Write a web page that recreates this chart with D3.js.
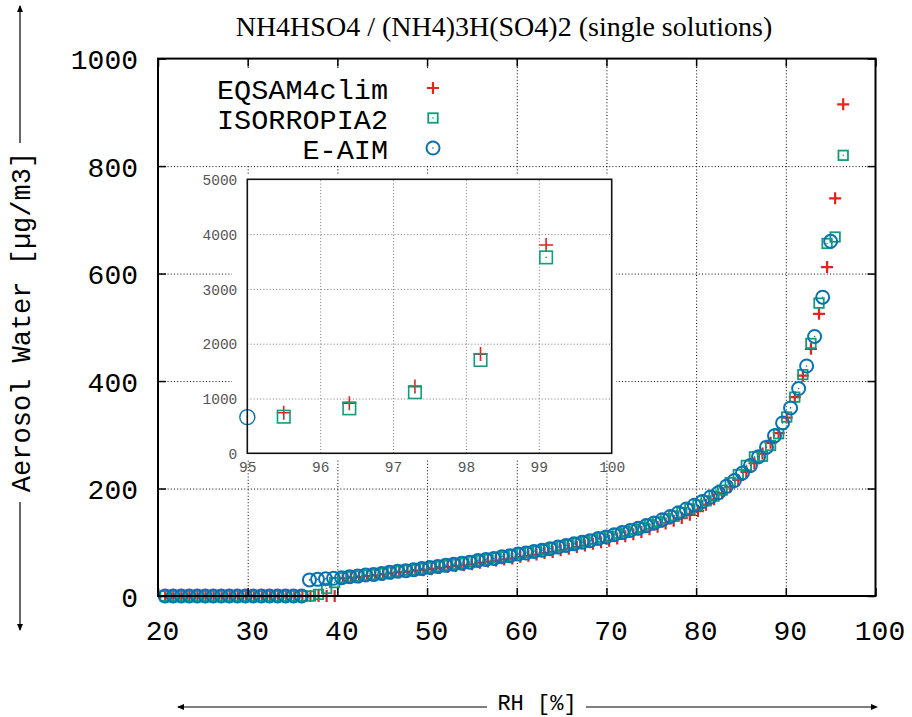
<!DOCTYPE html>
<html>
<head>
<meta charset="utf-8">
<script src="https://cdn.jsdelivr.net/npm/d3@7"></script>
<style>
  body { margin: 0; background: #fff; }
  svg { display: block; }
</style>
</head>
<body>
<svg id="chart" width="912" height="717"></svg>
<script>
// Relative humidity grid of the EQSAM4clim and ISORROPIA2 runs [%]
const rhGrid = [20.8,21.7,22.6,23.5,24.4,25.3,26.2,27.1,28.0,28.9,29.8,30.7,31.6,32.5,33.4,34.3,35.2,36.1,37.0,37.9,
  38.8,39.7,40.6,41.5,42.4,43.3,44.2,45.1,46.0,46.9,47.8,48.7,49.6,50.5,51.4,52.3,53.2,54.1,55.0,55.9,
  56.8,57.7,58.6,59.5,60.4,61.3,62.2,63.1,64.0,64.9,65.8,66.7,67.6,68.5,69.4,70.3,71.2,72.1,73.0,73.9,
  74.8,75.7,76.6,77.5,78.4,79.3,80.2,81.1,82.0,82.9,83.8,84.7,85.6,86.5,87.4,88.3,89.2,90.1,91.0,91.9,
  92.8,93.7,94.6,95.5,96.4,97.3,98.2,99.1];

// Relative humidity grid of the E-AIM reference runs [%]
const rhEaim = [20.80,21.69,22.59,23.48,24.38,25.27,26.16,27.06,27.95,28.85,29.74,30.63,31.53,32.42,33.32,34.21,35.10,36.00,
  36.89,37.79,38.68,39.57,40.47,41.36,42.26,43.15,44.04,44.94,45.83,46.73,47.62,48.51,49.41,50.30,51.20,52.09,
  52.98,53.88,54.77,55.67,56.56,57.45,58.35,59.24,60.14,61.03,61.92,62.82,63.71,64.61,65.50,66.39,67.29,68.18,
  69.08,69.97,70.86,71.76,72.65,73.55,74.44,75.33,76.23,77.12,78.02,78.91,79.80,80.70,81.59,82.49,83.38,84.27,
  85.17,86.06,86.96,87.85,88.74,89.64,90.53,91.43,92.32,93.21,94.11,95.00];

// Aerosol water [ug/m3]
const eqsamWater = [0,0,0,0,0,0,0,0,0,0,0,0,0,0,0,0,0,0,0,0,
  0,0,33,34,35,37,38,40,42,44,45,47,48,50,52,54,56,57,59,62,
  64,66,68,70,73,75,77,80,82,85,88,91,94,97,100,103,107,111,115,119,
  124,129,135,140,145,151,158,170,180,191,203,216,231,247,265,285,303,332,370,410,
  460,525,612,740,915,1217,1810,3800];

const isorropiaWater = [0,0,0,0,0,0,0,0,0,0,0,0,0,0,0,0,0,0,0,3,
  14,25,34,36,37,39,40,42,44,46,48,49,51,53,55,57,59,61,64,66,
  68,71,73,76,79,81,83,86,89,92,95,98,101,105,108,111,116,120,124,128,
  133,138,144,149,155,162,169,177,186,197,211,226,243,259,260,280,302,333,370,412,
  470,545,656,668,820,1115,1703,3575];

const eaimWater = [0,0,0,0,0,0,0,0,0,0,0,0,0,0,0,0,0,0,
  30,31,32,33,34,36,37,39,40,42,44,46,47,49,51,53,55,57,
  59,61,63,66,68,70,73,75,78,80,83,85,88,91,94,97,100,103,
  107,110,114,118,122,126,131,136,142,148,155,162,169,176,184,192,204,215,
  229,243,259,277,298,322,350,386,428,483,556,660];

const xTicks = [20,30,40,50,60,70,80,90,100];
const yTicks = [0,200,400,600,800,1000];
const insetXTicks = [95,96,97,98,99,100];
const insetYTicks = [0,1000,2000,3000,4000,5000];

const seriesNames = ["EQSAM4clim","ISORROPIA2","E-AIM"];
const seriesColors = ["#e8221b","#0f9e78","#0a72b4"];

const titleText = "NH4HSO4 / (NH4)3H(SO4)2 (single solutions)";
const yLabelText = "Aerosol Water [\u00b5g/m3]";
const xLabelText = "RH [%]";

const series = [
  { name: seriesNames[0], color: seriesColors[0], shape: "cross",  rh: rhGrid, water: eqsamWater },
  { name: seriesNames[1], color: seriesColors[1], shape: "square", rh: rhGrid, water: isorropiaWater },
  { name: seriesNames[2], color: seriesColors[2], shape: "circle", rh: rhEaim, water: eaimWater }
];

const mono = "'Liberation Mono', 'Courier New', monospace";
const serif = "'Liberation Serif', 'Times New Roman', serif";
const intFmt = d3.format("d");

const svg = d3.select("#chart");

// ---- main panel frame ----
const P = { left: 158, right: 875.5, top: 58.6, bottom: 596 };
const x = d3.scaleLinear().domain([20, 100]).range([P.left, P.right]);
const y = d3.scaleLinear().domain([0, 1000]).range([P.bottom, P.top]);

function dotted(sel, color) {
  sel.selectAll("line").attr("stroke", color).attr("stroke-width", 1).attr("stroke-dasharray", "1,2.2");
}

// grid
svg.append("g")
  .attr("transform", `translate(0,${P.bottom})`)
  .call(d3.axisBottom(x).tickValues(xTicks.slice(1, -1)).tickSize(-(P.bottom - P.top)).tickFormat(""))
  .call(g => g.select(".domain").remove())
  .call(g => dotted(g, "#000"));
svg.append("g")
  .attr("transform", `translate(${P.left},0)`)
  .call(d3.axisLeft(y).tickValues(yTicks.slice(1, -1)).tickSize(-(P.right - P.left)).tickFormat(""))
  .call(g => g.select(".domain").remove())
  .call(g => dotted(g, "#000"));

// ---- markers ----
function drawMarker(g, shape, color, cx, cy, s) {
  if (shape === "cross") {
    g.append("path")
      .attr("d", `M${cx - s.cross},${cy}H${cx + s.cross}M${cx},${cy - s.cross}V${cy + s.cross}`)
      .attr("stroke", color).attr("stroke-width", s.crossW).attr("fill", "none");
  } else if (shape === "square") {
    g.append("rect")
      .attr("x", cx - s.sq / 2).attr("y", cy - s.sq / 2)
      .attr("width", s.sq).attr("height", s.sq)
      .attr("stroke", color).attr("stroke-width", s.sqW).attr("fill", "none");
    g.append("circle").attr("cx", cx).attr("cy", cy).attr("r", 0.8).attr("fill", color);
  } else {
    g.append("circle")
      .attr("cx", cx).attr("cy", cy).attr("r", s.r)
      .attr("stroke", color).attr("stroke-width", s.rW).attr("fill", "none");
    g.append("circle").attr("cx", cx).attr("cy", cy).attr("r", 0.8).attr("fill", color);
  }
}

const mainSize = { cross: 6, crossW: 2.2, sq: 9.5, sqW: 1.8, r: 6.5, rW: 2 };
const pts = svg.append("g");
series.forEach(sr => {
  const g = pts.append("g");
  sr.rh.forEach((rh, i) => {
    const w = sr.water[i];
    if (rh < 20 || rh > 100 || w < 0 || w > 1000) return;
    drawMarker(g, sr.shape, sr.color, x(rh), y(w), mainSize);
  });
});

// ---- axes with inward ticks ----
const tickLen = 8;
const axB = svg.append("g").attr("transform", `translate(0,${P.bottom})`)
  .call(d3.axisBottom(x).tickValues(xTicks).tickSize(-tickLen).tickSizeOuter(0).tickFormat(intFmt));
axB.selectAll("text").attr("x", 4).attr("y", 44).attr("dy", null)
  .attr("font-family", mono).attr("font-size", 28).attr("fill", "#000");
const axL = svg.append("g").attr("transform", `translate(${P.left},0)`)
  .call(d3.axisLeft(y).tickValues(yTicks).tickSize(-tickLen).tickSizeOuter(0).tickFormat(intFmt));
axL.selectAll("text").attr("x", -20).attr("dy", "0.36em")
  .attr("font-family", mono).attr("font-size", 28).attr("fill", "#000");
svg.append("g").attr("transform", `translate(0,${P.top})`)
  .call(d3.axisTop(x).tickValues(xTicks).tickSize(-tickLen).tickSizeOuter(0).tickFormat(""));
svg.append("g").attr("transform", `translate(${P.right},0)`)
  .call(d3.axisRight(y).tickValues(yTicks).tickSize(-tickLen).tickSizeOuter(0).tickFormat(""));
svg.selectAll(".domain").remove();
svg.selectAll(".tick line").filter(function () { return !this.getAttribute("stroke-dasharray"); })
  .attr("stroke", "#000").attr("stroke-width", 1.5);

svg.append("rect")
  .attr("x", P.left).attr("y", P.top)
  .attr("width", P.right - P.left).attr("height", P.bottom - P.top)
  .attr("fill", "none").attr("stroke", "#000").attr("stroke-width", 2);

// ---- legend ----
const legend = svg.append("g");
legend.append("rect").attr("x", 200).attr("y", 68).attr("width", 258).attr("height", 96).attr("fill", "#fff");
const legendRows = [89, 119, 149];
series.forEach((sr, i) => {
  legend.append("text")
    .attr("x", 388).attr("y", legendRows[i]).attr("dy", "0.36em")
    .attr("text-anchor", "end")
    .attr("font-family", mono).attr("font-size", 28.5).attr("fill", "#000")
    .text(sr.name);
  drawMarker(legend, sr.shape, sr.color, 433, legendRows[i] - 1, mainSize);
});

// ---- inset: 95-100 % RH ----
const Q = { left: 247.3, right: 611.7, top: 179.3, bottom: 453.3 };
const xi = d3.scaleLinear().domain([95, 100]).range([Q.left, Q.right]);
const yi = d3.scaleLinear().domain([0, 5000]).range([Q.bottom, Q.top]);
const inset = svg.append("g");
inset.append("rect").attr("x", 232).attr("y", 174).attr("width", 384).attr("height", 286).attr("fill", "#fff");

inset.append("g").attr("transform", `translate(0,${Q.bottom})`)
  .call(d3.axisBottom(xi).tickValues(insetXTicks.slice(1, -1)).tickSize(-(Q.bottom - Q.top)).tickFormat(""))
  .call(g => g.select(".domain").remove())
  .call(g => dotted(g, "#777"));
inset.append("g").attr("transform", `translate(${Q.left},0)`)
  .call(d3.axisLeft(yi).tickValues(insetYTicks.slice(1, -1)).tickSize(-(Q.right - Q.left)).tickFormat(""))
  .call(g => g.select(".domain").remove())
  .call(g => dotted(g, "#777"));

const insetSize = { cross: 7, crossW: 1.6, sq: 12.5, sqW: 1.6, r: 7.5, rW: 1.4 };
series.forEach(sr => {
  const g = inset.append("g");
  sr.rh.forEach((rh, i) => {
    const w = sr.water[i];
    if (rh < 95 || rh > 100 || w > 5000) return;
    drawMarker(g, sr.shape, sr.color, xi(rh), yi(w), insetSize);
  });
});

const iaB = inset.append("g").attr("transform", `translate(0,${Q.bottom})`)
  .call(d3.axisBottom(xi).tickValues(insetXTicks).tickSize(0).tickSizeOuter(0).tickFormat(intFmt));
iaB.selectAll("text").attr("y", 19).attr("dy", null)
  .attr("font-family", mono).attr("font-size", 14.5).attr("fill", "#555");
const iaL = inset.append("g").attr("transform", `translate(${Q.left},0)`)
  .call(d3.axisLeft(yi).tickValues(insetYTicks).tickSize(0).tickSizeOuter(0).tickFormat(intFmt));
iaL.selectAll("text").attr("x", -10).attr("dy", "0.36em")
  .attr("font-family", mono).attr("font-size", 14.5).attr("fill", "#555");
inset.selectAll(".domain").remove();

inset.append("rect")
  .attr("x", Q.left).attr("y", Q.top)
  .attr("width", Q.right - Q.left).attr("height", Q.bottom - Q.top)
  .attr("fill", "none").attr("stroke", "#111").attr("stroke-width", 1.6);

// ---- title and axis labels with arrows ----
svg.append("text")
  .attr("x", 504).attr("y", 36).attr("text-anchor", "middle")
  .attr("font-family", serif).attr("font-size", 28).attr("fill", "#000")
  .text(titleText);

function arrowHead(cx, cy, dir) {
  const L = 7, W = 3;
  let d;
  if (dir === "up") d = `M${cx},${cy}L${cx - W},${cy + L}L${cx + W},${cy + L}Z`;
  else if (dir === "down") d = `M${cx},${cy}L${cx - W},${cy - L}L${cx + W},${cy - L}Z`;
  else if (dir === "left") d = `M${cx},${cy}L${cx + L},${cy - W}L${cx + L},${cy + W}Z`;
  else d = `M${cx},${cy}L${cx - L},${cy - W}L${cx - L},${cy + W}Z`;
  svg.append("path").attr("d", d).attr("fill", "#000");
}

// vertical label
svg.append("line").attr("x1", 20).attr("x2", 20).attr("y1", 6).attr("y2", 143).attr("stroke", "#000").attr("stroke-width", 1.2);
svg.append("line").attr("x1", 20).attr("x2", 20).attr("y1", 502).attr("y2", 630).attr("stroke", "#000").attr("stroke-width", 1.2);
arrowHead(20, 5, "up");
arrowHead(20, 631, "down");
svg.append("text")
  .attr("transform", "translate(21,322) rotate(-90)")
  .attr("text-anchor", "middle").attr("dy", "0.35em")
  .attr("font-family", mono).attr("font-size", 27).attr("fill", "#000")
  .text(yLabelText);

// horizontal label
svg.append("line").attr("x1", 178).attr("x2", 487).attr("y1", 707).attr("y2", 707).attr("stroke", "#000").attr("stroke-width", 1.2);
svg.append("line").attr("x1", 586).attr("x2", 876).attr("y1", 707).attr("y2", 707).attr("stroke", "#000").attr("stroke-width", 1.2);
arrowHead(177, 707, "left");
arrowHead(878, 707, "right");
svg.append("text")
  .attr("x", 537).attr("y", 703).attr("text-anchor", "middle").attr("dy", "0.3em")
  .attr("font-family", mono).attr("font-size", 22).attr("fill", "#000")
  .text(xLabelText);
</script>
</body>
</html>
